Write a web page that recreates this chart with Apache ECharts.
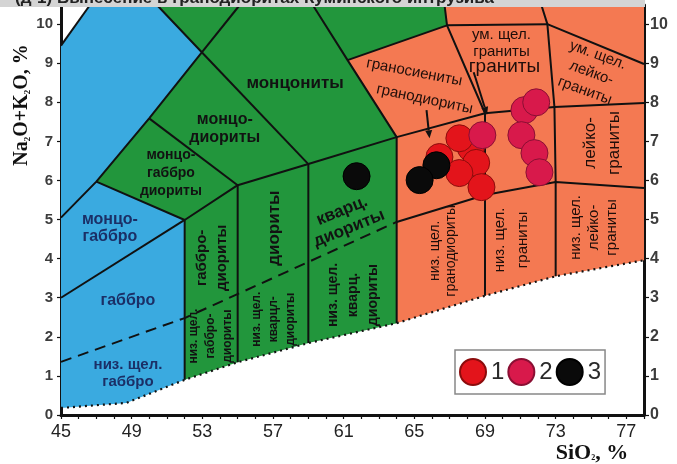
<!DOCTYPE html>
<html><head><meta charset="utf-8">
<script src="https://cdn.jsdelivr.net/npm/echarts@6/dist/echarts.min.js"></script>
<style>html,body{margin:0;padding:0;background:#fff}#c{width:677px;height:464px}</style>
</head><body><div id="c"></div>
<script>
// ---- axis ticks ----
const xTickLabels = [45,49,53,57,61,65,69,73,77];
const xTickMarks = [45,46,47,48,49,50,51,52,53,54,55,56,57,58,59,60,61,62,63,64,65,66,67,68,69,70,71,72,73,74,75,76,77,78];
const yTickLabels = [0,1,2,3,4,5,6,7,8,9,10];

// ---- classification fields (SiO2, Na2O+K2O) ----
const blueField = [[45,0.18],[45,9.45],[46.64,10.49],[50.43,10.49],[52.97,9.28],[49.99,7.59],[47.0,5.97],[52,4.99],[52,0.9],[48.7,0.31]];
const greenField = [[50.43,10.49],[66.71,10.49],[66.85,9.97],[61.22,9.08],[64,7.11],[64,2.35],[59,1.84],[55,1.35],[52,0.9],[52,4.99],[47.0,5.97],[49.99,7.59],[52.97,9.28]];
const orangeField = [[66.71,10.49],[78,10.49],[78,3.96],[73,3.55],[69,3.05],[64,2.35],[64,7.11],[61.22,9.08],[66.85,9.97]];

// ---- boundaries ----
const solidLines = [
  [[45,9.45],[46.64,10.49]],
  [[50.43,10.49],[52.97,9.28],[49.99,7.59],[47.0,5.97],[45,5.05]],
  [[52.97,9.28],[55.12,10.49]],
  [[52.97,9.28],[59,6.42]],
  [[49.99,7.59],[55,5.88]],
  [[47.0,5.97],[52,4.99]],
  [[45,3.0],[52,4.99]],
  [[52,4.99],[55,5.88],[59,6.42],[64,7.11]],
  [[52,4.99],[52,0.9]],
  [[55,5.88],[55,1.35]],
  [[59,6.42],[59,1.84]],
  [[59.25,10.49],[61.22,9.08],[64,7.11],[64,2.35]],
  [[61.22,9.08],[66.85,9.97],[72.53,10.0],[78,8.98]],
  [[66.71,10.49],[66.85,9.97],[69,7.72],[69,3.05]],
  [[64,7.11],[69,7.72],[72.93,7.88],[78,7.98]],
  [[72.19,10.49],[72.53,10.0],[72.93,7.88],[73,5.96],[73,3.55]],
  [[64,4.94],[69,5.63],[73,5.96],[78,5.81]]
];
const dashedLine = [[45,1.36],[52,2.48],[64,4.94]];
const lowerBoundary = [[45,0.18],[48.7,0.31],[52,0.9],[55,1.35],[59,1.84],[64,2.35],[69,3.05],[73,3.55],[78,3.96]];
const arrows = [[65.69,7.8,65.86,7.08],[68.36,8.77,69.12,7.68]];

// ---- field names: text, SiO2, Na2O+K2O ----
const fieldNames = [
  ['монцониты',58.25,8.49],
  ['монцо-\nдиориты',54.27,7.34],
  ['монцо-\nгаббро\nдиориты',51.22,6.19],
  ['монцо-\nгаббро',47.77,4.78],
  ['габбро',48.79,2.92],
  ['низ. щел.\nгаббро',48.79,1.07],
  ['габбро-\nдиориты',53.54,4.02],
  ['низ. щел.\nгаббро-\nдиориты',53.5,2.02],
  ['диориты',57.1,4.78],
  ['низ. щел.\nкварцл-\nдиориты',57.04,2.45],
  ['кварц.\nдиориты',61.11,5.0],
  ['низ. щел.\nкварц.\nдиориты',61.56,3.07],
  ['граносиениты',65.0,8.77],
  ['гранодиориты',65.58,8.08],
  ['ум. щел.\nграниты',69.93,9.51],
  ['граниты',70.1,8.9],
  ['ум. щел.\nлейко-\nграниты',75.02,8.75],
  ['лейко-\nграниты',75.62,6.96],
  ['низ. щел.\nлейко-\nграниты',75.19,4.8],
  ['низ. щел.\nгранодиориты',66.65,4.2],
  ['низ. щел.\nграниты',70.5,4.48]
];
// style per name: [rotationDeg, fontSize, bold, lineHeight, colour]
const NAVY='#1b2f66', DARK='#121212', BROWN='#1f0e0a';
const fieldNameStyle = [
  [0,17,1,20,DARK],[0,16,1,18,DARK],[0,14,1,18,DARK],[0,16,1,17,NAVY],[0,16,1,18,NAVY],[0,15,1,17,NAVY],
  [90,15,1,20,DARK],[90,12,1,17,DARK],[90,17,1,20,DARK],[90,12,1,17,DARK],[22,17,1,19,DARK],[90,14,1,20,DARK],
  [-11,15,0,18,BROWN],[-12,15,0,18,BROWN],[0,15,0,17,BROWN],[0,19,0,20,BROWN],[-20,15,0,19,BROWN],
  [90,17,0,24,BROWN],[90,15,0,18,BROWN],[90,14,0,16,BROWN],[90,15,0,23,BROWN]
];

// ---- samples ----
const group1 = [[66.42,6.6],[68.2,6.83],[67.55,7.08],[68.5,6.45],[67.55,6.19],[68.8,5.83]];
const group2 = [[68.85,7.16],[71.23,7.8],[71.9,8.0],[71.06,7.16],[71.8,6.7],[72.08,6.21]];
const group3 = [[61.73,6.11],[66.25,6.39],[65.3,6.01]];

function polySeries(poly, color){
  return {type:'custom', coordinateSystem:'cartesian2d', silent:true, z:1, clip:true,
    data:[poly[0]],
    renderItem:(p,api)=>({type:'polygon', shape:{points:poly.map(q=>api.coord(q))}, style:{fill:color}})};
}
function lineSeries(data, type, width){
  return {type:'line', data:data, symbol:'none', silent:true, z:3, animation:false,
    lineStyle:{color:'#111', width:width, type:type}};
}
const series = [
  polySeries(blueField,'#3aaae0'),
  polySeries(greenField,'#22963c'),
  polySeries(orangeField,'#f47952')
];
solidLines.forEach(l=>series.push(lineSeries(l,'solid',2)));
series.push(lineSeries(dashedLine,[11,7],2));
series.push(lineSeries(lowerBoundary,[2,4],2.2));
series.push({type:'custom', coordinateSystem:'cartesian2d', silent:true, z:4,
  data:arrows, encode:{x:[0,2],y:[1,3]},
  renderItem:(p,api)=>{
    const a=api.coord([api.value(0),api.value(1)]), b=api.coord([api.value(2),api.value(3)]);
    const dx=b[0]-a[0], dy=b[1]-a[1], L=Math.hypot(dx,dy), ux=dx/L, uy=dy/L;
    const hl=8, hw=3.5, bx=b[0]-ux*hl, by=b[1]-uy*hl;
    return {type:'group', children:[
      {type:'line', shape:{x1:a[0],y1:a[1],x2:bx,y2:by}, style:{stroke:'#111',lineWidth:2}},
      {type:'polygon', shape:{points:[[b[0],b[1]],[bx-uy*hw,by+ux*hw],[bx+uy*hw,by-ux*hw]]}, style:{fill:'#111'}}
    ]};
  }});
series.push({type:'custom', coordinateSystem:'cartesian2d', silent:true, z:4,
  data:fieldNames.map((f,i)=>[f[1],f[2],i]),
  renderItem:(p,api)=>{
    const i=api.value(2), f=fieldNames[i], s=fieldNameStyle[i], c=api.coord([f[1],f[2]]);
    return {type:'text', x:c[0], y:c[1], rotation:s[0]*Math.PI/180,
      style:{text:f[0], fontSize:s[1], fontWeight:s[2]?'bold':'normal', fontFamily:'"Liberation Sans", Arial, sans-serif',
        fill:s[4], align:'center', verticalAlign:'middle', lineHeight:s[3]}};
  }});
const sym = 27;
series.push({name:'1', type:'scatter', data:group1, symbolSize:sym, z:10,
  itemStyle:{color:'#e3141b', borderColor:'#8c0c0c', borderWidth:1, opacity:1}});
series.push({name:'2', type:'scatter', data:group2, symbolSize:sym, z:11,
  itemStyle:{color:'#d8194b', borderColor:'#8a0f33', borderWidth:1, opacity:1}});
series.push({name:'3', type:'scatter', data:group3, symbolSize:sym, z:12,
  itemStyle:{color:'#0a0a0a', borderColor:'#000', borderWidth:1, opacity:1}});

const axisFont = '"Liberation Sans", Arial, sans-serif';
const chart = echarts.init(document.getElementById('c'), null, {renderer:'canvas'});
chart.setOption({
  animation:false,
  backgroundColor:'#ffffff',
  grid:{left:61, right:33, top:5, bottom:49, containLabel:false},
  xAxis:{type:'value', min:45, max:78,
    axisLine:{show:true, onZero:false, lineStyle:{color:'#111', width:3}},
    axisTick:{show:true, customValues:xTickMarks, length:4, lineStyle:{color:'#111', width:1.2}},
    axisLabel:{customValues:xTickLabels, margin:8, fontSize:18, color:'#222', fontFamily:axisFont},
    splitLine:{show:false}},
  yAxis:[
    {type:'value', min:0, max:10.49, position:'left',
      axisLine:{show:true, onZero:false, lineStyle:{color:'#111', width:3}},
      axisTick:{show:true, customValues:yTickLabels, length:4, lineStyle:{color:'#111', width:1.2}},
      axisLabel:{customValues:yTickLabels, margin:8, fontSize:15, fontWeight:'bold', color:'#3c3c3c', fontFamily:axisFont},
      splitLine:{show:false}},
    {type:'value', min:0, max:10.49, position:'right',
      axisLine:{show:true, onZero:false, lineStyle:{color:'#111', width:3}},
      axisTick:{show:true, customValues:yTickLabels, length:5, lineStyle:{color:'#111', width:1.2}},
      axisLabel:{customValues:yTickLabels, margin:6, fontSize:16, fontWeight:'bold', color:'#3c3c3c', fontFamily:axisFont},
      splitLine:{show:false}}
  ],
  legend:{show:true, data:['1','2','3'], left:455, top:350, orient:'horizontal',
    icon:'circle', itemWidth:26, itemHeight:26, itemGap:3, padding:[8,4,8,4],
    backgroundColor:'#fff', borderColor:'#888', borderWidth:1.5, borderRadius:0,
    textStyle:{fontSize:24, color:'#2a2a2a', fontFamily:axisFont}, selectedMode:false},
  graphic:[
    {type:'rect', left:0, top:0, shape:{width:645, height:7}, style:{fill:'#d4d4d4'}, z:100},
    {type:'text', x:15, y:7, z:101, style:{text:'(д-1) Вынесение в гранодиоритах Куминского интрузива',
      fontSize:17, fontWeight:'bold', fontFamily:axisFont, fill:'#222', verticalAlign:'bottom', align:'left'}},
    {type:'text', x:22, y:105, rotation:Math.PI/2, z:101, style:{text:'Na{s|2}O+K{s|2}O, %',
      fontSize:20, fontWeight:'bold', fontFamily:'"Liberation Serif", "Times New Roman", serif', fill:'#111',
      align:'center', verticalAlign:'middle',
      rich:{s:{fontSize:9, fontWeight:'bold', fontFamily:'"Liberation Serif", serif', fill:'#111', verticalAlign:'bottom', padding:[10,0,0,0]}}}},
    {type:'text', x:592, y:453, z:101, style:{text:'SiO{s|2}, %',
      fontSize:22, fontWeight:'bold', fontFamily:'"Liberation Serif", "Times New Roman", serif', fill:'#111',
      align:'center', verticalAlign:'middle',
      rich:{s:{fontSize:8, fontWeight:'bold', fontFamily:'"Liberation Serif", serif', fill:'#111', padding:[10,0,0,0]}}}}
  ],
  series:series
});
</script></body></html>
